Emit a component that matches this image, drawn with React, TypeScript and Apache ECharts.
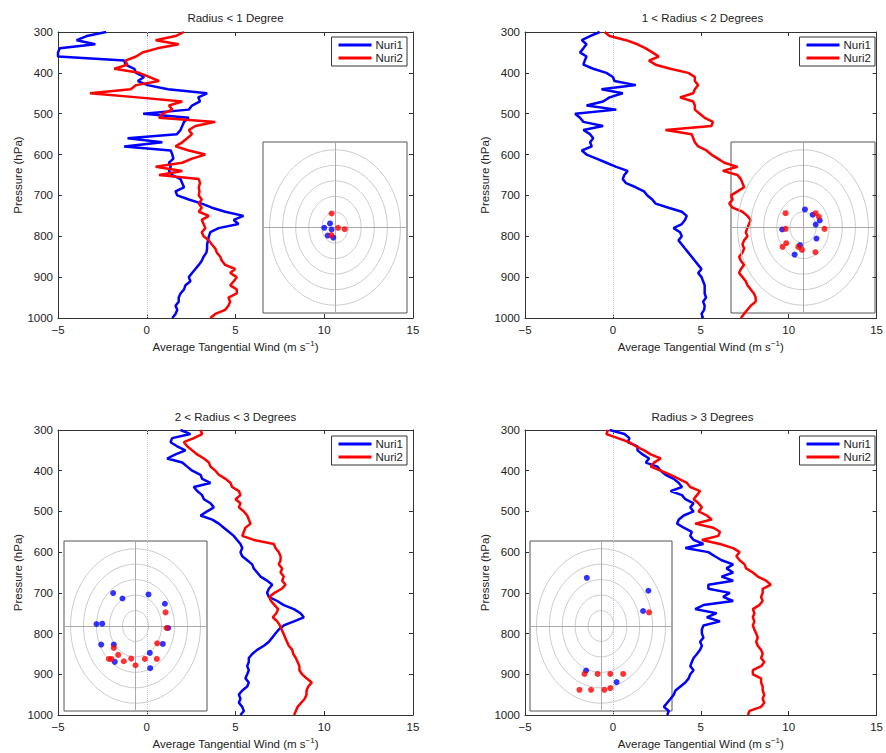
import { useEffect, useRef } from 'react';
import * as echarts from 'echarts';

// Pressure levels (hPa), shared by every profile
const pressure = [
  300, 310, 320, 330, 340, 350, 360, 370, 380, 390,
  400, 410, 420, 430, 440, 450, 460, 470, 480, 490,
  500, 510, 520, 530, 540, 550, 560, 570, 580, 590,
  600, 610, 620, 630, 640, 650, 660, 670, 680, 690,
  700, 710, 720, 730, 740, 750, 760, 770, 780, 790,
  800, 810, 820, 830, 840, 850, 860, 870, 880, 890,
  900, 910, 920, 930, 940, 950, 960, 970, 980, 990,
  1000,
];

// Average tangential wind (m/s) — Radius < 1 Degree
const r1Nuri1 = [
  -2.29, -3.38, -3.95, -2.9, -4.9, -5.0, -5.0, -1.27, -1.2, -0.7,
  -0.6, -0.15, -0.5, 0.05, 1.2, 3.4, 2.9, 3.0, 2.55, 2.37,
  -0.2, 2.37, 2.1, 2.0, 1.9, 1.7, -1.08, 0.88, -1.27, 1.35,
  1.44, 1.5, 1.25, 1.35, 1.25, 1.44, 1.9, 2.0, 2.1, 1.62,
  1.72, 2.37, 3.1, 3.67, 4.42, 5.45, 4.9, 5.17, 4.05, 3.58,
  3.5, 3.45, 3.4, 3.4, 3.36, 3.2, 3.1, 2.93, 2.74, 2.55,
  2.37, 2.46, 2.18, 2.1, 1.9, 1.8, 1.8, 1.62, 1.72, 1.62,
  1.44,
];
const r1Nuri2 = [
  2.09, 1.62, 0.5, 1.8, 0.6, -0.24, -0.6, -1.2, -1.1, -1.83,
  -0.43, 0.13, 0.69, -0.6, -0.9, -3.2, -0.52, 2.0, 1.25, 1.44,
  0.88, 0.69, 3.86, 2.74, 2.37, 2.55, 2.28, 2.0, 1.62, 2.37,
  3.3, 2.55, 2.0, 0.5, 2.0, 0.69, 2.93, 3.0, 2.93, 2.97,
  2.93, 3.1, 2.93, 3.1, 2.93, 3.5, 3.1, 3.2, 3.3, 3.1,
  3.2, 3.5, 3.67, 3.86, 3.95, 4.14, 4.23, 4.42, 4.98, 4.7,
  5.07, 4.9, 4.7, 5.07, 5.07, 4.6, 4.7, 4.6, 4.42, 3.86,
  3.58,
];

// 1 < Radius < 2 Degrees
const r2Nuri1 = [
  -0.75, -1.3, -1.77, -1.5, -1.68, -1.87, -1.5, -1.6, -1.68, -1.12,
  -0.37, 0.0, 0.09, 1.3, -0.65, 0.56, -0.19, -0.56, -1.5, 0.19,
  -2.15, -1.87, -1.68, -0.56, -1.68, -1.3, -1.12, -1.3, -1.2, -1.77,
  -1.5, -0.93, -0.37, 0.19, 0.84, 0.65, 0.56, 0.75, 1.3, 1.77,
  1.96, 2.24, 2.43, 3.17, 3.92, 4.2, 4.1, 3.92, 3.45, 3.82,
  3.92, 3.73, 3.92, 4.1, 4.29, 4.48, 4.66, 4.85, 5.04, 4.85,
  5.04, 5.13, 5.22, 5.22, 5.22, 5.3, 5.13, 5.22, 5.19, 5.04,
  5.13,
];
const r2Nuri2 = [
  -0.47, -0.19, 0.75, 1.4, 1.87, 2.24, 2.61, 2.05, 2.43, 3.26,
  4.29, 4.66, 4.66, 4.85, 4.66, 4.57, 3.82, 4.57, 4.66, 4.66,
  4.94, 5.22, 5.69, 5.6, 2.99, 4.48, 4.57, 4.66, 4.85, 5.32,
  5.6, 5.97, 6.34, 7.09, 6.25, 7.09, 7.28, 7.37, 7.46, 7.09,
  6.72, 6.81, 6.62, 6.81, 7.37, 7.65, 7.84, 7.74, 7.65, 7.56,
  7.65, 7.46, 7.37, 7.46, 7.37, 7.18, 7.28, 7.46, 7.28, 7.18,
  7.37, 7.56, 7.65, 7.84, 8.02, 8.12, 8.12, 7.84, 7.65, 7.46,
  7.28,
];

// 2 < Radius < 3 Degrees
const r3Nuri1 = [
  1.9, 2.46, 1.43, 1.34, 1.71, 2.18, 1.62, 1.15, 2.0, 2.28,
  2.56, 3.03, 3.12, 3.59, 2.65, 2.84, 3.12, 3.22, 3.59, 3.78,
  3.4, 3.03, 3.69, 4.06, 4.34, 4.62, 4.9, 5.09, 5.28, 5.38,
  5.28, 5.38, 5.66, 5.94, 6.03, 6.22, 6.41, 6.78, 7.07, 6.88,
  6.78, 6.88, 7.35, 7.72, 8.29, 8.66, 8.85, 8.29, 7.72, 7.44,
  7.25, 7.07, 6.88, 6.6, 6.22, 5.94, 5.75, 5.75, 5.66, 5.75,
  5.66, 5.56, 5.75, 5.66, 5.38, 5.19, 5.28, 5.19, 5.38, 5.47,
  5.28,
];
const r3Nuri2 = [
  3.03, 3.12, 2.65, 2.09, 2.28, 2.56, 2.84, 3.22, 3.5, 3.59,
  3.87, 4.06, 4.44, 4.72, 4.81, 5.19, 5.28, 5.0, 5.28, 5.19,
  5.47, 5.66, 5.75, 5.85, 5.56, 5.47, 5.38, 6.03, 7.16, 7.25,
  7.44, 7.54, 7.54, 7.44, 7.63, 7.54, 7.72, 7.63, 7.82, 7.6,
  7.2, 6.9, 7.0, 7.2, 7.4, 7.3, 7.1, 7.35, 7.5, 7.6,
  7.7, 7.8, 7.9, 8.0, 8.2, 8.25, 8.4, 8.5, 8.6, 8.6,
  8.75, 9.0, 9.3, 9.1, 9.0, 9.0, 8.9, 8.7, 8.5, 8.4,
  8.3,
];

// Radius > 3 Degrees
const r4Nuri1 = [
  -0.19, 0.66, 0.94, 0.84, 1.4, 1.4, 1.69, 2.06, 1.87, 2.53,
  2.72, 3.0, 3.46, 3.75, 3.93, 3.28, 3.93, 4.12, 4.59, 4.4,
  4.59, 4.03, 3.75, 3.65, 4.03, 4.49, 4.4, 4.59, 5.15, 4.12,
  5.43, 5.8, 6.18, 6.84, 6.46, 6.84, 6.18, 6.84, 5.43, 5.43,
  6.65, 6.27, 6.84, 5.15, 4.68, 5.9, 5.34, 6.09, 5.15, 5.06,
  5.06, 5.15, 4.96, 5.06, 4.96, 4.78, 4.59, 4.49, 4.4, 4.59,
  4.4, 4.31, 4.12, 3.84, 3.56, 3.46, 3.28, 3.09, 2.9, 3.18,
  3.09,
];
const r4Nuri2 = [
  -0.28, -0.37, 0.28, 0.94, 1.31, 1.78, 2.15, 2.72, 2.34, 2.15,
  2.72, 3.28, 3.75, 4.21, 4.4, 4.96, 4.78, 4.59, 4.87, 5.06,
  4.87, 5.34, 5.62, 4.68, 5.71, 6.09, 6.0, 5.06, 6.09, 6.84,
  7.21, 7.02, 7.21, 7.49, 7.58, 7.96, 8.24, 8.71, 8.99, 8.52,
  8.52, 8.43, 8.52, 8.33, 7.96, 8.05, 7.96, 8.05, 7.96, 8.05,
  8.15, 8.24, 8.15, 8.24, 8.43, 8.52, 8.43, 8.61, 8.43, 7.96,
  7.96, 8.43, 8.43, 8.52, 8.52, 8.61, 8.52, 8.61, 8.43, 7.77,
  7.68,
];

// Inset storm-relative positions [x, y] (degrees)
const inset1Nuri1 = [[-0.38, 0.26], [-0.82, -0.02], [-0.26, -0.13], [-0.56, -0.52], [-0.13, -0.65]];
const inset1Nuri2 = [[-0.26, 0.9], [0.23, -0.02], [0.74, -0.11], [-0.28, -0.49]];
const inset2Nuri1 = [[0.15, 1.16], [0.74, 0.82], [1.28, 0.45], [0.97, 0.19], [-1.59, -0.13], [1.03, -0.71], [-0.23, -1.14], [-0.64, -1.74]];
const inset2Nuri2 = [[-1.33, 0.92], [0.97, 0.92], [1.21, 0.69], [1.64, -0.09], [-1.33, -0.09], [-1.28, -1.01], [-1.56, -1.25], [-0.36, -1.25], [-0.08, -1.44], [0.95, -1.59]];
const inset3Nuri1 = [[-1.72, 2.13], [-1.0, 1.78], [1.0, 2.04], [2.26, 1.44], [-3.0, 0.13], [-2.56, 0.15], [2.51, -0.13], [-2.64, -1.2], [-1.67, -1.2], [2.1, -1.16], [1.1, -1.74], [-1.59, -2.32], [1.13, -2.73]];
const inset3Nuri2 = [[2.31, 0.88], [2.38, -0.13], [-1.67, -1.42], [1.67, -1.12], [-1.33, -1.87], [-2.05, -2.13], [-1.85, -2.13], [-0.9, -2.28], [-0.33, -2.11], [0.0, -2.54], [0.72, -2.13], [1.64, -2.13]];
const inset4Nuri1 = [[-1.1, 3.12], [3.67, 2.28], [3.26, 0.97], [-1.15, -2.88], [1.21, -3.63]];
const inset4Nuri2 = [[3.72, 0.88], [-1.28, -3.1], [-0.26, -3.1], [0.72, -3.1], [1.72, -3.1], [-1.67, -4.13], [-0.77, -4.13], [0.26, -4.13], [0.72, -4.02]];

const titles = ['Radius < 1 Degree', '1 < Radius < 2 Degrees', '2 < Radius < 3 Degrees', 'Radius > 3 Degrees'];
const seriesNames = ['Nuri1', 'Nuri2'];
const ringRadii = [1, 2, 3, 4, 5];
const xTickMin = -5;
const xTickMax = 15;
const xTickStep = 5;
const pMin = 300;
const pMax = 1000;
const pStep = 100;

const FONT = '"Liberation Sans", Arial, Helvetica, sans-serif';
const BLUE = '#0000ff';
const RED = '#ff0000';
const AXIS = '#333333';
const TEXT = '#222222';

const panels = [
  { n1: r1Nuri1, n2: r1Nuri2, c1: inset1Nuri1, c2: inset1Nuri2, left: 58, top: 32, height: 286, inset: { left: 263, top: 142, width: 144, height: 171 }, legendRight: 479, legendTop: 37, titleTop: 12 },
  { n1: r2Nuri1, n2: r2Nuri2, c1: inset2Nuri1, c2: inset2Nuri2, left: 525, top: 32, height: 286, inset: { left: 731, top: 142, width: 144, height: 171 }, legendRight: 11, legendTop: 37, titleTop: 12 },
  { n1: r3Nuri1, n2: r3Nuri2, c1: inset3Nuri1, c2: inset3Nuri2, left: 58, top: 430, height: 287, inset: { left: 64, top: 541, width: 143, height: 170 }, legendRight: 479, legendTop: 436, titleTop: 411 },
  { n1: r4Nuri1, n2: r4Nuri2, c1: inset4Nuri1, c2: inset4Nuri2, left: 525, top: 430, height: 287, inset: { left: 530, top: 541, width: 142, height: 170 }, legendRight: 11, legendTop: 436, titleTop: 411 },
];

const PLOT_W = 355;

function buildOption() {
  const grid: any[] = [];
  const xAxis: any[] = [];
  const yAxis: any[] = [];
  const series: any[] = [];
  const title: any[] = [];
  const legend: any[] = [];

  const axisLine = { show: true, onZero: false, lineStyle: { color: AXIS, width: 1 } };
  const axisTick = { show: true, inside: true, length: 4, lineStyle: { color: AXIS, width: 1 } };
  const labelStyle = { fontSize: 11.5, color: TEXT, fontFamily: FONT };

  panels.forEach((pn, i) => {
    const gMain = 2 * i;
    const gInset = 2 * i + 1;
    grid.push({ left: pn.left, top: pn.top, width: PLOT_W, height: pn.height, show: false, containLabel: false });
    grid.push({
      left: pn.inset.left, top: pn.inset.top, width: pn.inset.width, height: pn.inset.height,
      show: true, borderColor: '#555555', borderWidth: 1, backgroundColor: 'transparent', containLabel: false,
    });

    title.push({
      text: titles[i], left: pn.left + PLOT_W / 2, top: pn.titleTop, textAlign: 'center', padding: 0,
      textStyle: { fontSize: 11.5, fontWeight: 'normal', color: TEXT, fontFamily: FONT },
    });

    legend.push({
      data: seriesNames, orient: 'vertical', right: pn.legendRight, top: pn.legendTop,
      icon: 'rect', itemWidth: 33, itemHeight: 3, itemGap: 1, padding: [2, 4, 2, 7],
      borderColor: AXIS, borderWidth: 1, backgroundColor: '#ffffff', selectedMode: false,
      textStyle: { ...labelStyle, padding: [0, 0, 0, -1] },
    });

    // main axes: bottom, top, inset
    xAxis.push({
      gridIndex: gMain, type: 'value', position: 'bottom', min: xTickMin, max: xTickMax, interval: xTickStep,
      axisLine, axisTick, splitLine: { show: false },
      axisLabel: { ...labelStyle, margin: 6, formatter: (v: number) => (v < 0 ? '\u2212' + Math.abs(v) : String(v)) },
      name: 'Average Tangential Wind (m s{sup|\u22121})', nameLocation: 'middle', nameGap: 21,
      nameTextStyle: { ...labelStyle, lineHeight: 16, rich: { sup: { fontSize: 8, verticalAlign: 'top', lineHeight: 9, color: TEXT, fontFamily: FONT } } },
    });
    xAxis.push({
      gridIndex: gMain, type: 'value', position: 'top', min: xTickMin, max: xTickMax, interval: xTickStep,
      axisLine, axisTick, splitLine: { show: false }, axisLabel: { show: false },
    });
    xAxis.push({ gridIndex: gInset, type: 'value', min: -5.5, max: 5.5, show: false });

    yAxis.push({
      gridIndex: gMain, type: 'value', position: 'left', min: pMin, max: pMax, interval: pStep, inverse: true,
      axisLine, axisTick, splitLine: { show: false },
      axisLabel: { ...labelStyle, margin: 5, formatter: (v: number) => String(v) },
      name: 'Pressure (hPa)', nameLocation: 'middle', nameGap: 34, nameRotate: 90,
      nameTextStyle: { ...labelStyle },
    });
    yAxis.push({
      gridIndex: gMain, type: 'value', position: 'right', min: pMin, max: pMax, interval: pStep, inverse: true,
      axisLine, axisTick, splitLine: { show: false }, axisLabel: { show: false },
    });
    yAxis.push({ gridIndex: gInset, type: 'value', min: -5.5, max: 5.5, show: false });

    const xi = 3 * i;
    const yi = 3 * i;

    series.push({
      type: 'line', name: seriesNames[0], xAxisIndex: xi, yAxisIndex: yi, color: BLUE,
      data: pressure.map((p, k) => [pn.n1[k], p]), showSymbol: false, symbol: 'none',
      lineStyle: { color: BLUE, width: 2.5 }, z: 3, clip: true,
      markLine: {
        silent: true, symbol: ['none', 'none'], label: { show: false },
        lineStyle: { color: '#c4c4e4', type: 'dotted', width: 1 },
        data: [{ xAxis: 0 }], z: 1,
      },
    });
    series.push({
      type: 'line', name: seriesNames[1], xAxisIndex: xi, yAxisIndex: yi, color: RED,
      data: pressure.map((p, k) => [pn.n2[k], p]), showSymbol: false, symbol: 'none',
      lineStyle: { color: RED, width: 2.5 }, z: 3, clip: true,
    });

    // inset: rings, crosshair, positions
    series.push({
      type: 'custom', name: 'rings' + i, xAxisIndex: xi + 2, yAxisIndex: yi + 2, silent: true, z: 4,
      data: ringRadii.map((r) => [r, 0]),
      renderItem: (_params: any, api: any) => {
        const r = api.value(0);
        const c = api.coord([0, 0]);
        const s = api.size([r, r]);
        return {
          type: 'ellipse',
          shape: { cx: c[0], cy: c[1], rx: s[0], ry: s[1] },
          style: { fill: 'none', stroke: '#cccccc', lineWidth: 1 },
        };
      },
    });
    series.push({
      type: 'scatter', name: 'Nuri1 position ' + i, xAxisIndex: xi + 2, yAxisIndex: yi + 2,
      data: pn.c1, symbol: 'circle', symbolSize: 6, itemStyle: { color: BLUE }, z: 6, silent: true,
      markLine: {
        silent: true, symbol: ['none', 'none'], label: { show: false },
        lineStyle: { color: '#aaaaaa', type: 'solid', width: 1 },
        data: [{ xAxis: 0 }, { yAxis: 0 }],
      },
    });
    series.push({
      type: 'scatter', name: 'Nuri2 position ' + i, xAxisIndex: xi + 2, yAxisIndex: yi + 2,
      data: pn.c2, symbol: 'circle', symbolSize: 6, itemStyle: { color: RED }, z: 6, silent: true,
    });
  });

  return {
    animation: false,
    backgroundColor: '#ffffff',
    textStyle: { fontFamily: FONT },
    title, legend, grid, xAxis, yAxis, series,
  };
}

export default function App() {
  const ref = useRef<HTMLDivElement>(null);
  useEffect(() => {
    if (!ref.current) return;
    const chart = echarts.init(ref.current, undefined, { renderer: 'svg' });
    chart.setOption(buildOption() as any);
    return () => chart.dispose();
  }, []);
  return (
    <div
      ref={ref}
      style={{ position: 'absolute', left: 0, top: 0, width: 886, height: 753, background: '#fff' }}
    />
  );
}
